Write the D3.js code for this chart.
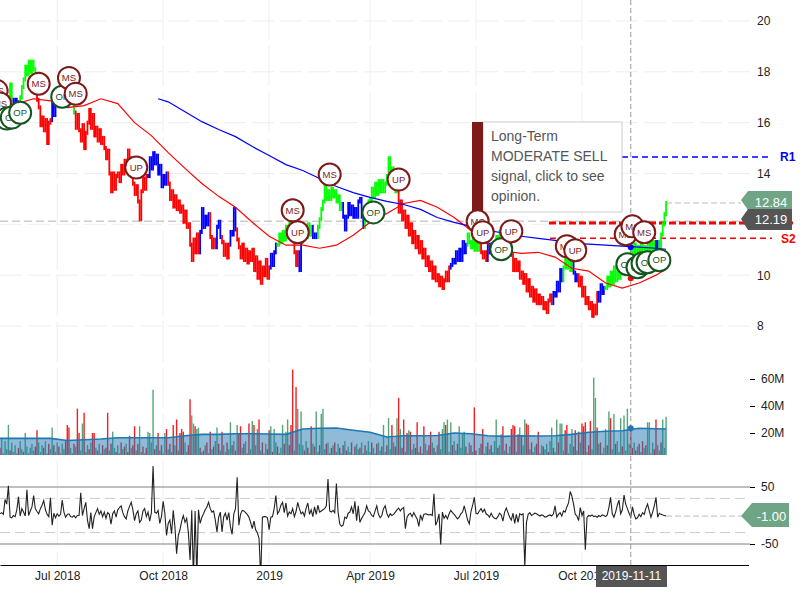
<!DOCTYPE html>
<html>
<head>
<meta charset="utf-8">
<script src="https://d3js.org/d3.v7.min.js"></script>
<style>
	body { margin: 0; background: #fff; }
	text { font-family: "Liberation Sans", Arial, sans-serif; }
</style>
</head>
<body>
<div id="chart-area"></div>
<script>
// one value per trading day, bar 0 = left edge of the picture, 20 values a row
const closes = [
	16.0,16.5,16.2,16.7,16.5,17.0,17.5,16.9,16.5,16.9,16.4,16.8,17.0,17.4,17.7,18.2,17.9,18.4,18.0,18.4,
	18.1,17.7,16.9,16.6,15.9,16.2,15.7,16.1,15.2,16.0,16.1,16.9,16.3,16.9,16.8,17.2,17.0,17.4,16.9,17.2,
	16.7,17.0,16.8,16.9,16.4,15.8,16.3,15.7,15.3,15.9,15.0,15.6,16.0,16.5,15.8,16.3,15.5,15.8,15.3,15.7,
	15.2,15.4,15.0,14.6,14.9,14.0,13.3,14.0,13.4,13.9,14.0,13.7,14.3,14.0,14.5,14.2,14.9,14.6,14.3,13.6,
	13.2,13.5,12.9,12.2,13.3,13.8,13.4,13.9,13.9,14.6,14.2,14.8,14.4,14.7,14.0,14.3,13.5,13.9,13.6,14.0,
	13.6,13.0,13.3,12.7,13.1,12.6,12.9,12.5,12.7,12.1,12.5,11.9,12.0,11.2,10.6,11.4,10.9,11.6,10.9,11.7,
	12.6,11.9,12.3,12.0,12.4,11.5,11.1,11.4,11.1,11.9,12.1,11.5,11.3,10.8,11.2,10.7,11.2,11.7,11.6,12.6,
	11.8,11.4,11.1,10.7,11.2,10.6,11.0,10.5,10.9,10.6,11.0,10.2,10.7,9.9,10.5,9.7,10.3,10.0,10.6,9.9,
	10.3,10.8,10.4,10.9,11.2,11.2,11.6,11.3,11.7,11.4,11.9,11.5,12.1,11.7,11.8,10.9,10.4,10.9,10.2,11.3,
	11.4,11.9,11.5,12.0,11.6,11.9,11.5,11.6,11.5,11.9,12.2,12.6,12.9,13.6,13.0,13.3,13.0,13.4,13.1,13.3,
	12.9,13.1,12.6,12.8,12.3,11.8,12.3,12.8,12.4,12.7,12.3,12.6,12.3,12.9,13.0,12.3,11.9,12.2,12.6,12.9,
	13.0,13.4,13.1,13.6,13.2,13.7,13.3,13.7,13.3,13.6,13.9,14.6,13.8,14.2,13.6,13.3,13.4,12.5,12.9,12.2,
	12.5,11.9,12.3,11.6,12.0,11.3,11.7,11.1,11.5,10.9,11.3,10.7,11.0,10.4,10.7,10.2,10.5,9.9,10.3,9.8,
	10.0,9.6,9.9,9.5,9.8,10.1,9.8,10.3,10.4,10.6,10.5,10.9,10.6,11.0,10.6,11.3,10.9,11.2,11.6,11.3,
	11.1,11.6,11.0,11.4,11.0,11.3,10.9,10.7,10.9,10.6,11.2,10.9,11.2,10.9,11.1,11.5,11.2,11.7,11.3,11.6,
	11.2,11.4,11.0,11.2,10.8,10.2,10.6,10.2,10.5,9.9,10.1,9.7,10.0,9.4,9.8,9.2,9.5,9.0,9.4,8.9,
	9.2,8.9,9.1,8.7,8.9,8.55,9.0,9.2,8.9,9.3,9.2,9.7,9.4,10.2,9.8,10.3,10.7,10.3,10.7,10.2,
	10.5,10.1,9.8,10.0,9.6,9.9,9.2,9.5,8.9,9.1,8.7,8.9,8.4,8.8,8.5,9.3,9.0,9.6,9.3,9.5,
	9.5,9.9,9.6,10.1,9.7,10.3,9.8,10.2,9.9,10.4,10.1,10.5,10.2,10.7,10.4,10.9,10.6,11.2,10.8,11.1,
	10.9,11.2,10.9,11.1,10.8,11.2,11.0,11.3,10.9,11.3,11.1,11.3,11.1,11.6,12.0,12.4,12.84
];

// signal colour runs: bar where each run starts and its state
const signalStarts = [0,8,12,22,31,34,37,45,88,100,119,125,129,132,137,141,161,165,174,178,180,186,189,204,217,237,268,278,286,290,294,302,329,335,341,344,356,360,390,392];
const signalStates = ["up","flat","up","down","flat","flat","up","down","flat","down","flat","down","flat","down","flat","down","flat","up","down","flat","up","flat","up","flat","up","down","flat","up","down","flat","up","down","flat","up","flat","down","flat","up","flat","up"];

// millions of shares, negative = down day
const volumes = [
	-9,16,5,14,8,26,-7,13,6,11,5,-9,14,8,-6,20,10,5,9,12,
	7,-10,-22,13,6,11,-9,14,5,-12,8,24,-11,6,13,-10,5,12,8,-14,
	-26,-24,9,5,-12,10,-38,-20,7,27,-35,6,11,-8,13,-20,-20,9,-7,12,
	5,-11,8,-9,-35,7,-12,21,9,-6,11,5,-13,8,-10,12,-6,-18,9,-11,
	-25,7,-12,25,6,-10,5,-9,21,20,13,52,-8,11,-20,7,-11,5,20,-23,
	8,-12,6,-26,11,-30,7,-20,-23,-21,13,6,-11,-45,33,27,-25,23,24,-9,
	6,-7,11,-13,5,-21,8,-10,14,24,-12,7,-21,11,6,-13,8,28,-11,14,
	-7,26,-20,-25,9,-12,14,5,-27,8,29,-26,11,23,-30,7,-13,5,12,-8,
	-22,25,-6,23,13,-10,5,9,26,-12,21,30,-11,-26,-67,7,-54,38,12,36,
	11,-7,14,-9,5,-25,12,-10,36,6,-11,34,38,8,-12,13,5,-9,11,-13,
	6,12,-9,5,-11,14,-7,10,6,-13,4,-10,12,8,-9,13,5,-11,7,14,
	6,-13,9,5,-12,13,7,-10,26,6,-11,31,8,-26,13,-10,31,-46,23,-9,
	-30,6,-20,22,-21,8,12,-9,-28,6,-10,5,-25,12,7,-11,-21,13,-9,6,
	11,-21,8,23,28,-26,30,6,28,-11,14,7,-12,25,9,20,21,-10,5,13,
	-11,6,-39,-7,3,9,-12,-23,5,10,-13,8,-11,6,14,30,-9,11,19,-25,
	7,-12,5,10,-23,-26,-25,6,-19,24,-18,11,30,-27,-26,8,-13,6,10,-12,
	-21,5,11,-10,8,12,-6,14,24,-9,6,30,-13,27,27,7,-22,-26,5,12,
	23,-10,-22,7,-21,13,-27,-25,-28,6,-11,-29,8,61,46,-24,12,-13,5,9,
	23,-11,36,-31,8,34,-12,14,6,31,-10,33,7,38,12,-25,-9,13,-7,10,
	-12,6,-14,9,-11,28,28,5,13,-8,-30,11,7,-13,30,9,32
];

const oscillator = [
	3,5,2,28,20,52,-3,-4,0,-2,10,33,-1,12,6,-1,45,0,8,15,
	35,12,7,3,12,18,26,10,2,-2,31,-17,4,-4,3,-1,2,27,6,-3,
	2,3,-2,-3,0,-4,0,0,40,0,12,23,-8,-23,5,-23,-2,5,12,2,
	8,-2,6,-5,5,2,-15,3,8,-3,10,14,17,5,-2,-6,8,16,23,10,
	-9,3,8,-12,-8,8,12,-2,6,-10,5,87,6,4,9,-14,-2,25,4,-35,
	-14,-8,-32,9,-20,-67,-35,-25,-10,0,-12,-5,-30,-78,9,-110,8,-110,10,-14,
	-3,3,10,15,23,12,6,8,-8,-29,-3,6,-29,-2,4,-8,5,-20,-33,3,
	12,67,-17,2,9,8,5,2,-3,-12,-23,-10,-25,-30,-40,-110,-3,-2,-2,-4,
	-25,-3,-2,12,35,3,8,18,23,5,22,-1,6,3,12,-2,7,23,12,3,
	6,-1,13,22,2,10,-2,15,2,18,6,8,10,12,17,64,8,6,9,5,
	56,6,-15,-19,-17,-3,-5,4,6,15,3,25,-9,17,-12,-5,0,5,17,8,
	6,0,-2,8,17,2,-4,0,12,17,4,-3,3,0,2,6,10,13,8,12,
	14,-23,-3,2,4,-2,5,-1,-6,-19,1,-8,2,3,2,1,2,0,38,-17,
	-10,3,-51,6,-5,0,-6,3,9,5,2,-2,-6,-3,3,6,17,5,-8,-15,
	7,18,32,4,3,8,12,6,11,3,1,-3,4,-2,-5,-6,-2,4,1,-10,
	6,13,5,-3,-8,4,-14,2,-12,3,1,3,-90,-12,2,5,0,2,4,3,
	1,-1,1,0,-3,-2,0,1,-1,3,17,-3,2,5,-1,8,6,15,22,42,
	34,20,2,-1,-9,14,0,8,-60,-3,0,-1,1,-2,-1,-3,0,-2,1,0,
	-2,1,14,32,3,-3,6,18,27,3,10,36,20,12,4,-3,15,2,-6,-4,
	2,-2,5,2,13,20,8,-3,6,17,32,-3,4,2,1,0,-1
];

// moving averages, read every 10 bars
const fastMaBars = d3.range(0, 400, 10).concat(396);
const fastMa = [16.63,16.75,16.94,16.86,16.59,16.67,16.94,16.75,16.0,15.49,14.82,14.2,13.61,13.1,12.67,12.08,11.53,11.18,11.18,11.06,11.18,11.57,12.08,12.43,12.82,12.94,12.67,12.27,11.76,11.22,10.94,10.86,10.9,10.71,10.27,10.16,9.69,9.49,9.69,10.0,10.24];
const slowMaBars = [94].concat(d3.range(100, 400, 10), 396);
const slowMa = [16.94,16.82,16.43,16.04,15.73,15.45,15.06,14.71,14.35,14.12,13.8,13.49,13.25,13.06,12.9,12.78,12.59,12.27,12.08,11.92,11.76,11.65,11.53,11.45,11.37,11.25,11.22,11.18,11.14,11.1,11.06,11.02];
const volMa = [16,16,16,16,14.5,15,15.5,16.5,16.5,16.5,16.5,18,19,19,19.5,19.5,19.3,19,23,23.5,23.7,22,20.5,17,18,18,18.2,20,19.5,18,17.5,18,17.8,18,19,20.5,21.3,21.7,23.5,23.2,23];

const badgeBars = [-2,0,4,7,12,23,37,41,45,81,174,177,196,222,237,284,287,298,304,337,342,373,379,382,385,372,376,383,392];
const badgePrices = [17.25,16.75,16.16,16.2,16.39,17.53,17.02,17.76,17.14,14.24,12.55,11.69,13.96,12.47,13.76,12.12,11.69,11.02,11.73,11.14,10.98,10.43,10.31,10.47,10.51,11.61,11.92,11.69,10.59];
const badgeLabels = ["MS","MS","OP","OP","OP","MS","OP","MS","MS","UP","MS","UP","MS","OP","UP","MS","UP","OP","UP","MS","UP","OP","OP","OP","OP","MS","MS","MS","OP"];

const dateBars = [34, 97, 160, 220, 283, 346];
const dateLabels = ["Jul 2018", "Oct 2018", "2019", "Apr 2019", "Jul 2019", "Oct 2019"];
const priceTicks = [8, 10, 12, 14, 16, 18, 20];
const volumeTicks = [20, 40, 60];
const oscTicks = [50, -50];
const tipLines = ["Long-Term", "MODERATE SELL", "signal, click to see", "opinion."];

const crossBar = 375;
const crossDate = "2019-11-11";
const crossPrice = 12.12;
const resistance = 14.65;
const support = 11.45;
const lastClose = closes[closes.length - 1];
const pivot = 12.05;
const wick = 0.08;

const colors = { up: "#00ff00", down: "#ff0000", flat: "#0000ff" };
const BADGE = { MS: "#7d1a1a", UP: "#7d1a1a", OP: "#15551f" };

const svg = d3.select("#chart-area").append("svg")
	.attr("width", 800)
	.attr("height", 600)
	.style("display", "block");

const x = d3.scaleLinear().domain([0, 445]).range([0, 748.5]);
const y = d3.scaleLinear().domain([8, 20]).range([326, 21]);
const yVol = d3.scaleLinear().domain([0, 60]).range([460, 379]);
const yOsc = d3.scaleLinear().domain([-50, 50]).range([544, 487]);

const defs = svg.append("defs");
defs.append("clipPath").attr("id", "clipVol").append("rect")
	.attr("x", 0).attr("y", 360).attr("width", 750).attr("height", 95);
defs.append("clipPath").attr("id", "clipOsc").append("rect")
	.attr("x", 0).attr("y", 460).attr("width", 750).attr("height", 105);

// grid
svg.append("g").selectAll("line").data(dateBars).join("line")
	.attr("x1", d => x(d)).attr("x2", d => x(d))
	.attr("y1", 0).attr("y2", 565)
	.attr("stroke", "#eee").attr("stroke-dasharray", "40,6");

svg.append("g").selectAll("line").data(priceTicks).join("line")
	.attr("x1", 0).attr("x2", 750)
	.attr("y1", d => y(d)).attr("y2", d => y(d))
	.attr("stroke", "#eee").attr("stroke-dasharray", "22,6");

// volume panel
const volG = svg.append("g").attr("clip-path", "url(#clipVol)");
volG.selectAll("line").data(volumes).join("line")
	.attr("x1", (d, i) => x(i)).attr("x2", (d, i) => x(i))
	.attr("y1", yVol(0)).attr("y2", d => yVol(Math.abs(d)))
	.attr("stroke", d => d < 0 ? "#ee2222" : "#55a578")
	.attr("stroke-width", 1.4);

const volArea = d3.area()
	.x((d, i) => x(fastMaBars[i]))
	.y0(yVol(0))
	.y1(d => yVol(d));
const volLine = d3.line()
	.x((d, i) => x(fastMaBars[i]))
	.y(d => yVol(d));

volG.append("path").attr("d", volArea(volMa))
	.attr("fill", "#1f77b4").attr("fill-opacity", 0.5);
volG.append("path").attr("d", volLine(volMa))
	.attr("fill", "none").attr("stroke", "#1f77b4").attr("stroke-width", 1.6);

// oscillator panel
oscTicks.forEach(t => {
	svg.append("line")
		.attr("x1", 0).attr("x2", 750)
		.attr("y1", yOsc(t)).attr("y2", yOsc(t))
		.attr("stroke", "#aaa").attr("stroke-width", 1.5);
	svg.append("line")
		.attr("x1", 0).attr("x2", 750)
		.attr("y1", yOsc(t * 0.6)).attr("y2", yOsc(t * 0.6))
		.attr("stroke", "#ccc").attr("stroke-dasharray", "10,5");
});

const oscLine = d3.line()
	.x((d, i) => x(i))
	.y(d => yOsc(d));
svg.append("path")
	.attr("clip-path", "url(#clipOsc)")
	.attr("d", oscLine(oscillator))
	.attr("fill", "none").attr("stroke", "#222").attr("stroke-width", 1.1);

// last value leaders
svg.append("line")
	.attr("x1", x(396)).attr("x2", 741)
	.attr("y1", yOsc(-1)).attr("y2", yOsc(-1))
	.attr("stroke", "#bbb").attr("stroke-dasharray", "6,3");
svg.append("line")
	.attr("x1", x(396)).attr("x2", 741)
	.attr("y1", y(lastClose)).attr("y2", y(lastClose))
	.attr("stroke", "#bbb").attr("stroke-dasharray", "6,3");

// price level lines
svg.append("line")
	.attr("x1", 622).attr("x2", 772)
	.attr("y1", y(resistance)).attr("y2", y(resistance))
	.attr("stroke", "#0000ff").attr("stroke-width", 1.5).attr("stroke-dasharray", "6,4");
svg.append("line")
	.attr("x1", 550).attr("x2", 772)
	.attr("y1", y(support)).attr("y2", y(support))
	.attr("stroke", "#ff0000").attr("stroke-width", 1.5).attr("stroke-dasharray", "6,4");
svg.append("line")
	.attr("x1", 0).attr("x2", 741)
	.attr("y1", y(crossPrice)).attr("y2", y(crossPrice))
	.attr("stroke", "#ccc").attr("stroke-width", 1.5).attr("stroke-dasharray", "8,4");
svg.append("line")
	.attr("x1", 549).attr("x2", 793)
	.attr("y1", y(pivot)).attr("y2", y(pivot))
	.attr("stroke", "#ff0000").attr("stroke-width", 3).attr("stroke-dasharray", "7,3");

svg.append("text").attr("x", 780).attr("y", y(resistance)).attr("dy", "0.35em")
	.attr("fill", "#0000ff").attr("font-size", 12).attr("font-weight", "bold").text("R1");
svg.append("text").attr("x", 781).attr("y", y(support)).attr("dy", "0.35em")
	.attr("fill", "#ff0000").attr("font-size", 12).attr("font-weight", "bold").text("S2");

// price bars: each one spans the move from the previous close
const stateOf = i => signalStates[d3.bisectRight(signalStarts, i) - 1];
svg.append("g").selectAll("line").data(closes).join("line")
	.attr("x1", (d, i) => x(i)).attr("x2", (d, i) => x(i))
	.attr("y1", (d, i) => y(Math.min(i ? closes[i - 1] : d, d) - wick))
	.attr("y2", (d, i) => y(Math.max(i ? closes[i - 1] : d, d) + wick))
	.attr("stroke", (d, i) => colors[stateOf(i)])
	.attr("stroke-width", 1.8);

const fastLine = d3.line().x((d, i) => x(fastMaBars[i])).y(d => y(d));
const slowLine = d3.line().x((d, i) => x(slowMaBars[i])).y(d => y(d));
svg.append("path").attr("d", fastLine(fastMa))
	.attr("fill", "none").attr("stroke", "#ff0000").attr("stroke-width", 1.2);
svg.append("path").attr("d", slowLine(slowMa))
	.attr("fill", "none").attr("stroke", "#0000ff").attr("stroke-width", 1.2);

// crosshair
svg.append("line")
	.attr("x1", x(crossBar)).attr("x2", x(crossBar))
	.attr("y1", 0).attr("y2", 565)
	.attr("stroke", "#999").attr("stroke-dasharray", "5,3");

svg.append("circle").attr("cx", x(crossBar)).attr("cy", y(9.88)).attr("r", 3).attr("fill", "#ff0000");
svg.append("circle").attr("cx", x(crossBar)).attr("cy", y(11.1)).attr("r", 3).attr("fill", "#0000ff");
svg.append("circle").attr("cx", x(crossBar)).attr("cy", yVol(23.5)).attr("r", 3).attr("fill", "#1f77b4");

// opinion tooltip
const tip = svg.append("g");
tip.append("rect")
	.attr("x", 483).attr("y", 122).attr("width", 139).attr("height", 90)
	.attr("fill", "#fff").attr("fill-opacity", 0.92).attr("stroke", "#ccc");
tip.append("rect")
	.attr("x", 472).attr("y", 122).attr("width", 11).attr("height", 90)
	.attr("fill", "#7d1a1a");
tip.selectAll("text").data(tipLines).join("text")
	.attr("x", 491)
	.attr("y", (d, i) => 141 + i * 20)
	.attr("font-size", 14)
	.attr("fill", "#555")
	.text(d => d);

// opinion badges
const badges = svg.append("g").selectAll("g").data(badgeLabels).join("g")
	.attr("transform", (d, i) => `translate(${x(badgeBars[i])}, ${y(badgePrices[i])})`);
badges.append("circle")
	.attr("r", 11)
	.attr("fill", "#fff")
	.attr("stroke", d => BADGE[d])
	.attr("stroke-width", 2);
badges.append("text")
	.attr("text-anchor", "middle")
	.attr("dy", "0.35em")
	.attr("font-size", 9.5)
	.attr("fill", d => BADGE[d])
	.text(d => d);

// axes
const xAxisCall = d3.axisBottom(x)
	.tickValues(dateBars)
	.tickSize(0)
	.tickPadding(6.5)
	.tickFormat((d, i) => dateLabels[i]);
const xAxisG = svg.append("g")
	.attr("transform", "translate(0, 565)")
	.call(xAxisCall);
xAxisG.select(".domain").attr("stroke", "#000").attr("stroke-width", 1.2);

const yAxisCall = d3.axisRight(y).tickValues(priceTicks).tickSize(0).tickPadding(0).tickFormat(d => d);
const volAxisCall = d3.axisRight(yVol).tickValues(volumeTicks).tickSize(5).tickPadding(6).tickFormat(d => d + "M");
const oscAxisCall = d3.axisRight(yOsc).tickValues(oscTicks).tickSize(5).tickPadding(6).tickFormat(d => d);

const yAxisG = svg.append("g").attr("transform", "translate(757, 0)").call(yAxisCall);
const volAxisG = svg.append("g").attr("transform", "translate(750, 0)").call(volAxisCall);
const oscAxisG = svg.append("g").attr("transform", "translate(750, 0)").call(oscAxisCall);
[yAxisG, volAxisG, oscAxisG].forEach(g => g.select(".domain").remove());
[xAxisG, yAxisG, volAxisG, oscAxisG].forEach(g => {
	g.attr("font-family", null).attr("font-size", null);
	g.selectAll("text").attr("font-size", 12).attr("fill", "#222");
});

// value tags
const tag = (tipX, tipY, left, right, top, bottom, fill, label, textY) => {
	svg.append("path")
		.attr("d", `M${tipX},${tipY}L${left},${top}L${right},${top}L${right},${bottom}L${left},${bottom}Z`)
		.attr("fill", fill);
	svg.append("text")
		.attr("x", (left + right) / 2 + 1)
		.attr("y", textY)
		.attr("dy", "0.35em")
		.attr("text-anchor", "middle")
		.attr("font-size", 13)
		.attr("fill", "#fff")
		.text(label);
};
tag(741, 200, 748, 792, 191, 210, "#6fa585", lastClose.toFixed(2), 202);
tag(741, 219, 748, 792, 209, 230, "#555", "12.19", 219.5);
tag(741, yOsc(-1), 752, 789, 503, 527, "#6fa585", "-1.00", yOsc(-1));

// crosshair date
svg.append("rect")
	.attr("x", 596).attr("y", 566).attr("width", 71).attr("height", 21)
	.attr("fill", "#555");
svg.append("text")
	.attr("x", 631.5).attr("y", 575.5)
	.attr("dy", "0.35em")
	.attr("text-anchor", "middle")
	.attr("font-size", 12)
	.attr("fill", "#fff")
	.text(crossDate);
</script>
</body>
</html>
